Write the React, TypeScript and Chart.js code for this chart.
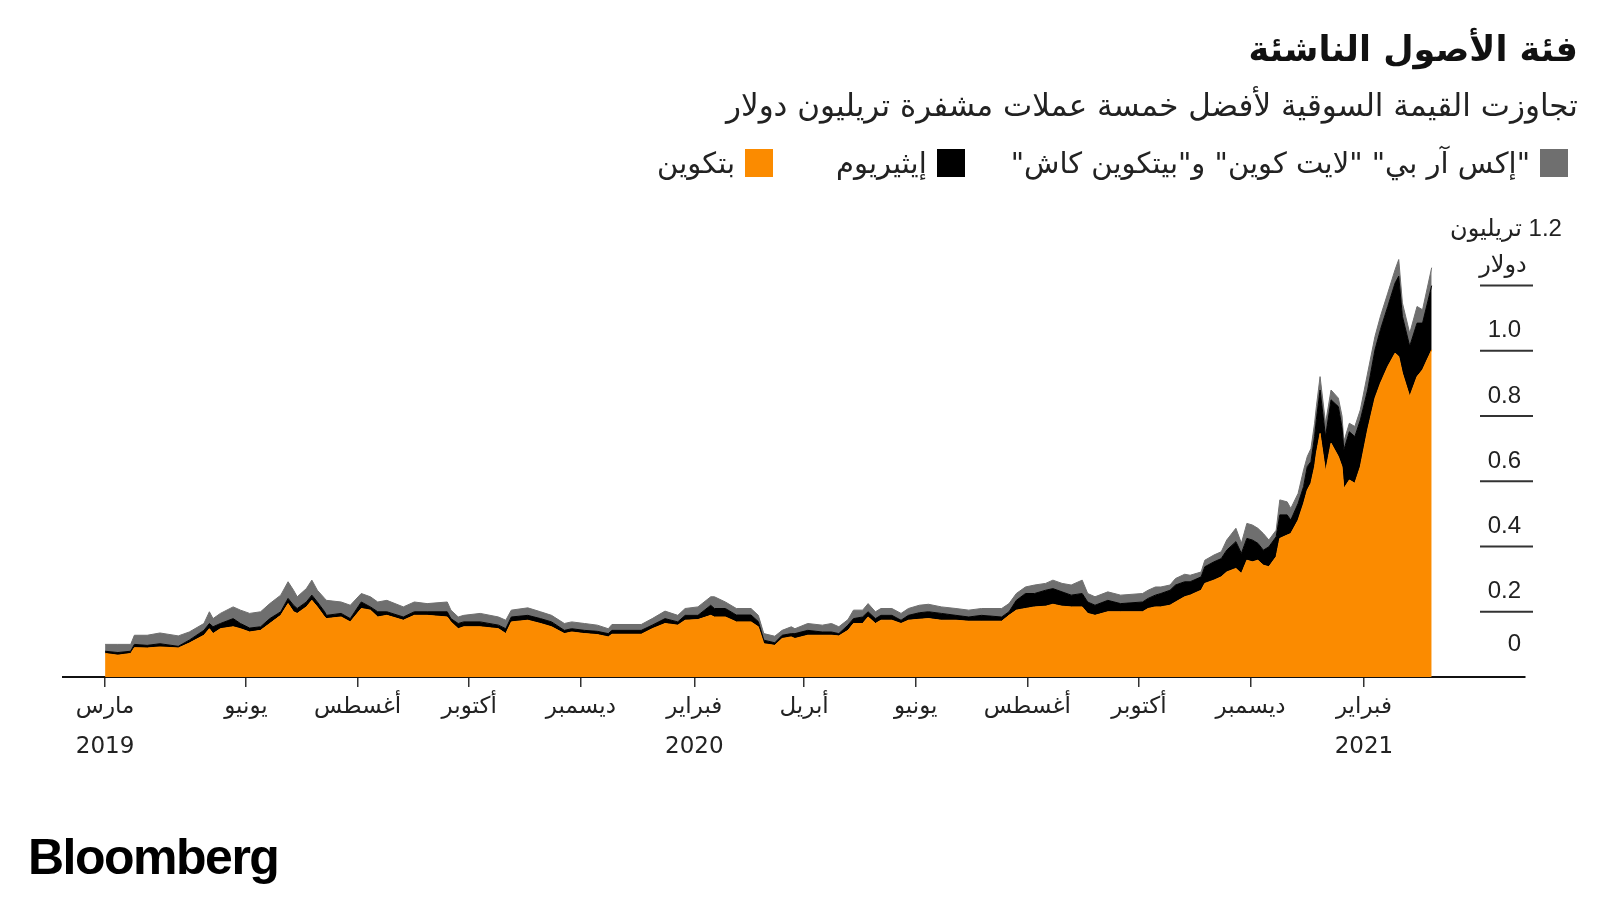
import React, { useEffect, useRef } from 'react';
import { Chart, registerables } from 'chart.js';

Chart.register(...registerables);

// ---------- text ----------
const TITLE = 'فئة الأصول الناشئة';
const SUBTITLE = 'تجاوزت القيمة السوقية لأفضل خمسة عملات مشفرة تريليون دولار';
const SOURCE = 'Bloomberg';

// ---------- series ----------
const SERIES_LABELS = ['بتكوين', 'إيثيريوم', '"إكس آر بي" "لايت كوين" و"بيتكوين كاش"'];
const SERIES_COLORS = ['#fb8b00', '#000000', '#6f6f6f'];

// ---------- data (trillions of US dollars) ----------
const START_DATE = '2019-03-16';
// days after START_DATE
const DAYS = [
  0, 7, 14, 16, 23, 30, 40, 46, 54, 57,
  59, 63, 70, 74, 79, 85, 90, 96, 100, 103,
  105, 110, 113, 116, 120, 121, 129, 134, 140, 145,
  149, 154, 163, 169, 176, 187, 189, 193, 196, 205,
  215, 219, 222, 231, 238, 244, 251, 255, 262, 269,
  275, 277, 293, 299, 306, 313, 317, 324, 331, 333,
  339, 345, 353, 357, 360, 366, 370, 375, 377, 384,
  392, 397, 401, 406, 409, 414, 417, 421, 424, 430,
  435, 439, 445, 450, 457, 465, 472, 479, 490, 494,
  498, 503, 508, 514, 518, 523, 528, 534, 537, 541,
  548, 555, 567, 570, 574, 577, 582, 585, 590, 593,
  599, 601, 606, 610, 613, 618, 621, 624, 627, 630,
  633, 636, 640, 642, 646, 648, 652, 655, 657, 659,
  661, 662, 664, 667, 670, 674, 676, 677, 680, 683,
  686, 690, 694, 697, 701, 705, 707, 709, 713, 717,
  720, 725,
];
const BITCOIN = [
  0.072, 0.067, 0.072, 0.090, 0.089, 0.092, 0.089, 0.104, 0.128, 0.148,
  0.133, 0.148, 0.154, 0.148, 0.138, 0.143, 0.164, 0.189, 0.225, 0.200,
  0.195, 0.215, 0.235, 0.215, 0.184, 0.179, 0.184, 0.169, 0.210, 0.205,
  0.184, 0.189, 0.174, 0.189, 0.189, 0.184, 0.169, 0.148, 0.154, 0.154,
  0.148, 0.133, 0.169, 0.174, 0.164, 0.154, 0.133, 0.138, 0.133, 0.130,
  0.123, 0.131, 0.131, 0.148, 0.164, 0.159, 0.174, 0.176, 0.189, 0.184,
  0.184, 0.169, 0.169, 0.154, 0.102, 0.097, 0.118, 0.123, 0.118, 0.128,
  0.128, 0.128, 0.126, 0.143, 0.164, 0.164, 0.184, 0.164, 0.174, 0.174,
  0.164, 0.174, 0.177, 0.179, 0.174, 0.174, 0.171, 0.171, 0.171, 0.189,
  0.205, 0.210, 0.215, 0.217, 0.223, 0.217, 0.215, 0.215, 0.195, 0.189,
  0.200, 0.200, 0.200, 0.210, 0.215, 0.215, 0.220, 0.230, 0.246, 0.251,
  0.266, 0.287, 0.297, 0.307, 0.322, 0.333, 0.317, 0.358, 0.353, 0.358,
  0.343, 0.338, 0.369, 0.425, 0.435, 0.440, 0.481, 0.532, 0.573, 0.594,
  0.645, 0.686, 0.747, 0.630, 0.717, 0.676, 0.645, 0.578, 0.604, 0.594,
  0.645, 0.758, 0.855, 0.901, 0.952, 0.993, 0.983, 0.932, 0.860, 0.921,
  0.942, 1.003,
];
const ETHEREUM = [
  0.007, 0.008, 0.007, 0.010, 0.008, 0.010, 0.005, 0.009, 0.015, 0.016,
  0.021, 0.016, 0.025, 0.016, 0.012, 0.011, 0.015, 0.011, 0.016, 0.020,
  0.015, 0.015, 0.016, 0.015, 0.016, 0.010, 0.011, 0.010, 0.020, 0.010,
  0.016, 0.011, 0.010, 0.011, 0.011, 0.016, 0.010, 0.016, 0.015, 0.015,
  0.011, 0.015, 0.015, 0.015, 0.015, 0.015, 0.010, 0.010, 0.010, 0.010,
  0.010, 0.012, 0.012, 0.011, 0.015, 0.010, 0.015, 0.013, 0.031, 0.026,
  0.026, 0.021, 0.021, 0.016, 0.011, 0.008, 0.010, 0.010, 0.015, 0.015,
  0.010, 0.010, 0.007, 0.016, 0.015, 0.020, 0.016, 0.015, 0.015, 0.015,
  0.010, 0.015, 0.020, 0.021, 0.021, 0.015, 0.013, 0.018, 0.013, 0.011,
  0.030, 0.046, 0.041, 0.049, 0.048, 0.044, 0.036, 0.041, 0.035, 0.031,
  0.035, 0.025, 0.030, 0.031, 0.036, 0.041, 0.046, 0.052, 0.046, 0.041,
  0.041, 0.051, 0.056, 0.056, 0.067, 0.082, 0.062, 0.067, 0.067, 0.052,
  0.046, 0.061, 0.061, 0.072, 0.062, 0.041, 0.051, 0.052, 0.072, 0.066,
  0.092, 0.104, 0.133, 0.107, 0.133, 0.153, 0.120, 0.118, 0.148, 0.143,
  0.143, 0.122, 0.148, 0.164, 0.184, 0.215, 0.246, 0.174, 0.154, 0.164,
  0.143, 0.197,
];
// XRP + Litecoin + Bitcoin Cash
const OTHERS = [
  0.021, 0.025, 0.021, 0.028, 0.031, 0.033, 0.032, 0.025, 0.021, 0.036,
  0.025, 0.031, 0.036, 0.041, 0.045, 0.046, 0.046, 0.051, 0.051, 0.046,
  0.036, 0.041, 0.046, 0.036, 0.041, 0.046, 0.035, 0.041, 0.026, 0.031,
  0.030, 0.035, 0.031, 0.030, 0.025, 0.030, 0.026, 0.020, 0.020, 0.026,
  0.025, 0.026, 0.021, 0.023, 0.021, 0.020, 0.021, 0.021, 0.021, 0.019,
  0.015, 0.018, 0.018, 0.020, 0.023, 0.020, 0.021, 0.026, 0.026, 0.036,
  0.020, 0.020, 0.020, 0.019, 0.020, 0.020, 0.015, 0.021, 0.015, 0.021,
  0.021, 0.026, 0.021, 0.017, 0.026, 0.021, 0.025, 0.021, 0.021, 0.021,
  0.021, 0.021, 0.023, 0.023, 0.020, 0.021, 0.021, 0.021, 0.026, 0.025,
  0.021, 0.020, 0.026, 0.021, 0.026, 0.026, 0.031, 0.041, 0.026, 0.026,
  0.026, 0.026, 0.026, 0.025, 0.025, 0.020, 0.016, 0.020, 0.023, 0.020,
  0.015, 0.020, 0.021, 0.021, 0.031, 0.041, 0.031, 0.046, 0.046, 0.046,
  0.051, 0.021, 0.020, 0.046, 0.040, 0.036, 0.031, 0.051, 0.031, 0.040,
  0.041, 0.040, 0.041, 0.041, 0.030, 0.026, 0.035, 0.026, 0.026, 0.031,
  0.031, 0.052, 0.041, 0.041, 0.041, 0.041, 0.051, 0.041, 0.040, 0.051,
  0.041, 0.055,
];

// ---------- axes ----------
const X_TICK_DATES = [
  '2019-03-16', '2019-06-01', '2019-08-01', '2019-10-01', '2019-12-01', '2020-02-01',
  '2020-04-01', '2020-06-01', '2020-08-01', '2020-10-01', '2020-12-01', '2021-02-01',
];
const X_TICK_MONTHS = [
  'مارس', 'يونيو', 'أغسطس', 'أكتوبر', 'ديسمبر', 'فبراير',
  'أبريل', 'يونيو', 'أغسطس', 'أكتوبر', 'ديسمبر', 'فبراير',
];
const X_TICK_YEARS = ['2019', '', '', '', '', '2020', '', '', '', '', '', '2021'];
const X_RANGE_DATES = ['2019-02-21', '2021-04-30'];

const Y_TICKS = [0, 0.2, 0.4, 0.6, 0.8, 1.0, 1.2];
const Y_TICK_LABELS = ['0', '0.2', '0.4', '0.6', '0.8', '1.0', '1.2 تريليون'];
const Y_UNIT = 'دولار';
const Y_MAX = 1.3;

const FONT = '"DejaVu Sans", sans-serif';
const NUM_FONT = '"Liberation Sans", "DejaVu Sans", sans-serif';

const dayOf = (iso: string) =>
  Math.round((Date.parse(iso + 'T00:00:00Z') - Date.parse(START_DATE + 'T00:00:00Z')) / 86400000);

const yLabelsPlugin = {
  id: 'yLabels',
  afterDraw(chart: any) {
    const { ctx, chartArea, scales } = chart;
    const y = scales.y;
    const right = chartArea.right;
    ctx.save();
    ctx.fillStyle = '#222';
    ctx.textBaseline = 'middle';
    Y_TICKS.forEach((v, i) => {
      const py = y.getPixelForValue(v);
      const label = Y_TICK_LABELS[i];
      if (v > 0) {
        ctx.strokeStyle = '#333';
        ctx.lineWidth = 2;
        ctx.beginPath();
        ctx.moveTo(right - 45, py);
        ctx.lineTo(right + 8, py);
        ctx.stroke();
      }
      ctx.font = `24px ${NUM_FONT}`;
      if (i === Y_TICKS.length - 1) {
        ctx.direction = 'rtl';
        ctx.textAlign = 'center';
        ctx.fillText(label, right - 19, py - 56);
        ctx.fillText(Y_UNIT, right - 22, py - 20);
        ctx.direction = 'ltr';
      } else if (v === 0) {
        const mid = (py + y.getPixelForValue(Y_TICKS[1])) / 2;
        ctx.textAlign = 'right';
        ctx.fillText(label, right - 4, mid);
      } else {
        ctx.textAlign = 'right';
        ctx.fillText(label, right - 4, py - 20);
      }
    });
    ctx.restore();
  },
};

export default function App() {
  const ref = useRef<HTMLCanvasElement | null>(null);

  useEffect(() => {
    if (!ref.current) return;
    const series = [BITCOIN, ETHEREUM, OTHERS];
    const chart = new Chart(ref.current, {
      type: 'line',
      data: {
        datasets: series.map((vals, si) => ({
          label: SERIES_LABELS[si],
          data: DAYS.map((d, i) => ({ x: d, y: vals[i] })),
          backgroundColor: SERIES_COLORS[si],
          borderColor: SERIES_COLORS[si],
          borderWidth: 1,
          pointRadius: 0,
          tension: 0,
          fill: si === 0 ? 'origin' : '-1',
        })),
      },
      options: {
        animation: false,
        responsive: false,
        layout: { padding: { left: 63, right: 75, top: 253, bottom: 103 } },
        plugins: { legend: { display: false }, tooltip: { enabled: false } },
        scales: {
          x: {
            type: 'linear',
            min: dayOf(X_RANGE_DATES[0]),
            max: dayOf(X_RANGE_DATES[1]),
            afterBuildTicks: (s: any) => {
              s.ticks = X_TICK_DATES.map((d) => ({ value: dayOf(d) }));
            },
            afterFit: (s: any) => {
              s.height = 120;
            },
            grid: {
              drawOnChartArea: false,
              drawTicks: true,
              tickLength: 10,
              color: '#333',
              lineWidth: 1.5,
            },
            border: { display: true, color: '#111', width: 2 },
            ticks: {
              autoSkip: false,
              maxRotation: 0,
              padding: 0,
              color: '#222',
              font: { family: FONT, size: 23, lineHeight: 1.75 },
              callback: (_v: any, i: number) =>
                X_TICK_YEARS[i] ? [X_TICK_MONTHS[i], X_TICK_YEARS[i]] : X_TICK_MONTHS[i],
            },
          },
          y: { display: false, stacked: true, min: 0, max: Y_MAX },
        },
      },
      plugins: [yLabelsPlugin],
    });
    return () => chart.destroy();
  }, []);

  const legendOrder = [2, 1, 0];
  const legendGaps = [46, 63, 0];

  return (
    <div
      style={{
        position: 'absolute',
        left: 0,
        top: 0,
        width: 1600,
        height: 900,
        background: '#fff',
        overflow: 'hidden',
        fontFamily: FONT,
        color: '#111',
      }}
    >
      <canvas
        ref={ref}
        width={1600}
        height={900}
        style={{ position: 'absolute', left: 0, top: 0, width: 1600, height: 900 }}
      />
      <div
        style={{
          position: 'absolute',
          right: 22,
          top: 28,
          fontSize: 35,
          fontWeight: 700,
          lineHeight: '42px',
          direction: 'rtl',
          whiteSpace: 'nowrap',
        }}
      >
        {TITLE}
      </div>
      <div
        style={{
          position: 'absolute',
          right: 22,
          top: 87,
          fontSize: 31,
          lineHeight: '36px',
          direction: 'rtl',
          whiteSpace: 'nowrap',
          color: '#222',
        }}
      >
        {SUBTITLE}
      </div>
      <div
        style={{
          position: 'absolute',
          right: 32,
          top: 144,
          display: 'flex',
          direction: 'rtl',
          alignItems: 'center',
          fontSize: 29,
          lineHeight: '38px',
          whiteSpace: 'nowrap',
          color: '#222',
        }}
      >
        {legendOrder.map((si, k) => (
          <div
            key={si}
            style={{ display: 'flex', alignItems: 'center', gap: 10, marginLeft: legendGaps[k] }}
          >
            <span
              style={{
                display: 'inline-block',
                width: 28,
                height: 28,
                background: SERIES_COLORS[si],
              }}
            />
            <span>{SERIES_LABELS[si]}</span>
          </div>
        ))}
      </div>
      <div
        style={{
          position: 'absolute',
          left: 28,
          top: 830,
          fontSize: 50,
          fontWeight: 700,
          lineHeight: '54px',
          letterSpacing: '-1.5px',
          fontFamily: '"Liberation Sans", sans-serif',
          color: '#000',
        }}
      >
        {SOURCE}
      </div>
    </div>
  );
}
